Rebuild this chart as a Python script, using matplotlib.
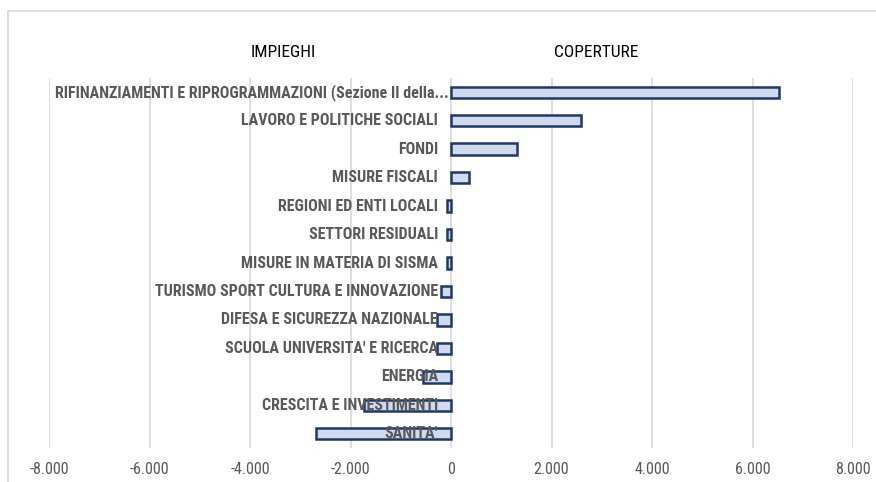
import matplotlib
matplotlib.use('Agg')
import matplotlib.pyplot as plt
import numpy as np
from matplotlib.patches import Rectangle
from matplotlib.ticker import FuncFormatter

# data (millions of euro), top to bottom
categories = [
    "RIFINANZIAMENTI E RIPROGRAMMAZIONI (Sezione II della...",
    "LAVORO E POLITICHE SOCIALI",
    "FONDI",
    "MISURE FISCALI",
    "REGIONI ED ENTI LOCALI",
    "SETTORI RESIDUALI",
    "MISURE IN MATERIA DI SISMA",
    "TURISMO SPORT CULTURA E INNOVAZIONE",
    "DIFESA E SICUREZZA NAZIONALE",
    "SCUOLA UNIVERSITA' E RICERCA",
    "ENERGIA",
    "CRESCITA E INVESTIMENTI",
    "SANITA'",
]
values = [6520, 2590, 1320, 365, -80, -80, -80, -200, -285, -285, -550, -1730, -2690]
x_ticks = [-8000, -6000, -4000, -2000, 0, 2000, 4000, 6000, 8000]

font = ['Liberation Sans Narrow', 'Roboto Condensed', 'Lato', 'DejaVu Sans']
plt.rcParams['font.family'] = font

W, H = 876, 482
fig = plt.figure(figsize=(W / 100, H / 100), dpi=100)

# chart frame
fig.patches.append(Rectangle((8 / W, -0.01), 1.0, 1 - 11 / H + 0.01, transform=fig.transFigure,
                             fill=False, edgecolor='#D9D9D9', linewidth=1.2))

ax = fig.add_axes([49 / W, 1 - 448 / H, (853 - 49) / W, (448 - 78) / H])
y = np.arange(len(categories))
ax.barh(y, values, height=0.4, color='#CFDAEF', edgecolor='#203864', linewidth=1.8, zorder=3)

ax.set_xlim(-8000, 8000)
ax.set_ylim(len(categories) - 0.5, -0.5)
ax.set_xticks(x_ticks)
ax.xaxis.set_major_formatter(FuncFormatter(lambda v, p: f'{int(v):,}'.replace(',', '.')))
ax.tick_params(axis='x', length=0, labelsize=11.5, labelcolor='#595959', pad=10)
ax.set_yticks([])
ax.grid(axis='x', color='#D9D9D9', linewidth=1.2, zorder=0)
for s in ax.spines.values():
    s.set_visible(False)

for yi, lab in zip(y, categories):
    # truncated label sits right against the axis, the others leave a small gap
    off = -50 if lab.endswith('...') else -260
    ax.text(off, yi, lab, ha='right', va='center', fontsize=11.5, fontweight='bold',
            color='#595959', zorder=4)

fig.text(283 / W, 1 - 52 / H, 'IMPIEGHI', ha='center', va='center', fontsize=12.5, color='#000000')
fig.text(596 / W, 1 - 52 / H, 'COPERTURE', ha='center', va='center', fontsize=12.5, color='#000000')

fig.savefig('out.png', dpi=100)
